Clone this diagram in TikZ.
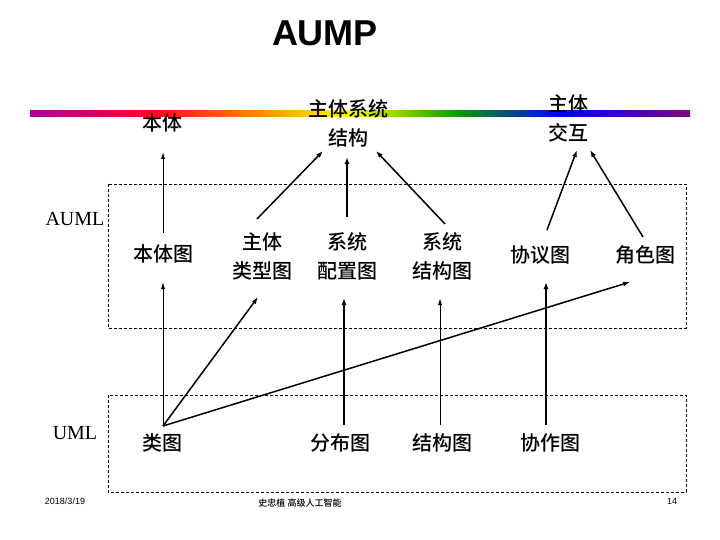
\documentclass[tikz,border=0pt]{standalone}
\usepackage{fontspec}
\setmainfont{Liberation Serif}
\newfontfamily\cjk{Noto Sans CJK SC Medium}
\newfontfamily\hei{Liberation Sans}
\usetikzlibrary{arrows.meta}
\begin{document}
\begin{tikzpicture}[x=1pt,y=-1pt,
  lab/.style={font=\cjk\fontsize{20}{29}\selectfont,align=center,inner sep=0pt},
  arr/.style={-{Latex[length=7pt,width=5pt]},line width=1.5pt},
  thin/.style={-{Latex[length=7pt,width=4pt]},line width=0.9pt},
  dbox/.style={draw,dash pattern=on 3pt off 2pt,line width=0.6pt}]
\useasboundingbox (0,0) rectangle (720,540);
\fill[white] (0,0) rectangle (720,540);
\node[font=\hei\bfseries\fontsize{36}{40}\selectfont] (title) at (325,33) {AUMP};
% rainbow line
\shade[left color=violet!70!magenta, right color=red!85!magenta] (30,111) rectangle (150,117);
\shade[left color=red!85!magenta, right color=orange] (149.5,111) rectangle (250,117);
\shade[left color=orange, right color=yellow] (249.5,111) rectangle (350,117);
\shade[left color=yellow, right color=green!60!black] (349.5,111) rectangle (460,117);
\shade[left color=green!60!black, right color=blue] (459.5,111) rectangle (560,117);
\shade[left color=blue, right color=violet] (559.5,111) rectangle (690,117);
\draw[dbox] (108,184) rectangle (686,328);
\draw[dbox] (108,395) rectangle (686,492);
\node[lab] (bt) at (162,123) {本体};
\node[lab] (zt) at (348,123) {主体系统\\结构};
\node[lab] (jh) at (568,118) {主体\\交互};
\node[font=\fontsize{20}{24}\selectfont] (auml) at (75,219) {AUML};
\node[font=\fontsize{20}{24}\selectfont] (uml) at (75,433) {UML};
\node[lab] (btt) at (163,254) {本体图};
\node[lab] (lx) at (262,256) {主体\\类型图};
\node[lab] (pz) at (347,256) {系统\\配置图};
\node[lab] (jg) at (442,256) {系统\\结构图};
\node[lab] (xy) at (540,255) {协议图};
\node[lab] (js) at (645,255) {角色图};
\node[lab] (lt) at (162,443) {类图};
\node[lab] (fb) at (340,443) {分布图};
\node[lab] (jg2) at (442,443) {结构图};
\node[lab] (xz) at (550,443) {协作图};
\node[font=\hei\fontsize{9}{10}\selectfont] (date) at (65,501) {2018/3/19};
\node[font=\cjk\fontsize{9}{10}\selectfont] (auth) at (300,503) {史忠植\ 高级人工智能};
\node[font=\hei\fontsize{9}{10}\selectfont] (pg) at (672,501) {14};
% coordinates
\coordinate (o) at (163,426);
\coordinate (a1) at (163,282); \coordinate (a2) at (258,297); \coordinate (a3) at (630,282);
\draw[thin] (o) -- (a1);
\draw[arr] (o) -- (a2);
\draw[arr] (o) -- (a3);
\draw[arr] (344,425) -- (344,298);
\draw[thin] (440,425) -- (440,298);
\draw[arr] (546,425) -- (546,282);
\draw[thin] (163,233) -- (163,152);
\draw[arr] (257,219) -- (323,151);
\draw[arr] (347,217) -- (347,157);
\draw[arr] (445,224) -- (376,151);
\draw[arr] (547,230) -- (577,150);
\draw[arr] (643,237) -- (590,150);
\end{tikzpicture}
\end{document}
